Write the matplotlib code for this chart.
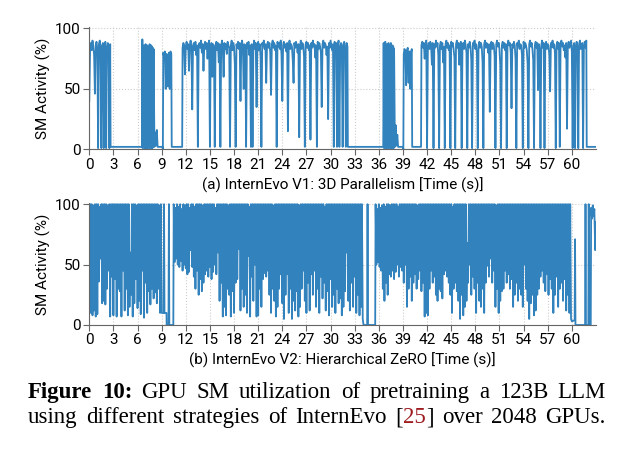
import numpy as np
import matplotlib.pyplot as plt

# ---------------- datos ----------------
# (a) InternEvo V1 : tramos muestreados cada dt segundos
v1_ini = [40, 84, 88, 82, 90, 85, 78, 46, 86, 89,
          83, 1, 87, 90, 84, 1, 86, 88, 1, 85,
          89, 1, 84, 88, 86, 1, 87]                      # 0.0 .. 2.6, dt 0.1
v1_bloque1 = [91, 1, 84, 2, 86, 1, 83, 1, 87, 2,
              85, 1, 86, 1, 84, 2, 85, 1, 87, 1,
              84, 2, 86, 1, 85, 1, 84, 2, 83]             # 6.6 .. 8.0, dt 0.05
v1_picos1 = [2, 14, 3, 16, 2, 2]                         # 8.1 .. 8.6
v1_medio1 = [80, 76, 81, 50, 79, 78, 52, 80, 50, 81, 79]  # 9.2 .. 10.2
v1_ciclo1 = [84, 88, 86, 62, 85, 89, 83, 87, 65, 86,
             90, 84, 33, 86, 88, 82, 89, 78, 86, 2,
             85, 88, 84, 90, 80, 87, 65, 86, 89, 83,
             88, 75, 86, 90, 2, 84, 88, 60, 87, 85,
             2, 86, 89, 82, 88, 72, 87, 2, 85, 90,
             84, 60, 88, 83, 87, 79, 89, 86, 84, 2,
             86, 90, 82, 88, 85, 70, 2, 87, 84, 89,
             83, 88, 40, 86, 90, 84, 50, 87, 85, 2,
             88, 84, 89, 78, 86, 2, 87, 2, 85, 90,
             83, 88, 35, 86, 89, 82, 87, 76, 2, 88,
             85, 90, 83, 87, 55, 86, 89, 84, 88, 80,
             45, 87, 90, 84, 88, 82, 86, 2, 89, 85,
             88, 83, 90, 78, 40, 86, 89, 84, 87, 81,
             88, 15, 86, 90, 83, 87, 85, 74, 55, 88,
             84, 89, 86, 80, 87, 10, 85, 90, 83, 88,
             86, 77, 2, 87, 89, 84, 88, 82, 86, 8,
             88, 84, 90, 85, 87, 76, 86, 2, 89, 83,
             88, 85, 80, 35, 87, 90, 84, 88, 86, 78,
             85, 25, 88, 84, 90, 86, 82, 87, 2, 89,
             85, 88, 2, 86, 90, 2, 84, 88, 85, 2,
             87, 89, 84, 2, 88, 85]                      # 11.6 .. 32.1
v1_bloque2 = [88, 1, 86, 2, 89, 1, 85, 1, 87, 2,
              84, 1, 88, 1, 86, 2, 85, 1, 88, 1,
              84, 2, 86, 1, 85, 1, 83]                    # 36.6 .. 37.9, dt 0.05
v1_picos2 = [2, 20, 3, 12, 2]                            # 38.0 .. 38.4
v1_medio2 = [79, 83, 80, 53, 82, 84, 55, 81, 50, 80, 83]  # 39.1 .. 40.1
v1_ciclo2 = [86, 89, 84, 88, 75, 87, 90, 1, 85, 88,
             83, 89, 86, 70, 88, 1, 87, 84, 90, 85,
             88, 78, 1, 86, 89, 83, 88, 72, 85, 1,
             87, 90, 84, 88, 82, 86, 1, 89, 85, 88,
             83, 76, 1, 87, 90, 84, 88, 70, 86, 89,
             1, 85, 88, 83, 90, 86, 80, 1, 87, 84,
             89, 85, 74, 1, 88, 86, 90, 83, 87, 79,
             1, 86, 89, 84, 88, 85, 72, 1, 87, 90,
             84, 88, 86, 80, 87, 31, 85, 89, 83, 88,
             86, 77, 1, 87, 90, 85, 88, 83, 70, 1,
             86, 89, 84, 88, 82, 87, 1, 85, 90, 86,
             88, 80, 34, 87, 84, 89, 86, 75, 1, 88,
             85, 90, 83, 87, 86, 78, 1, 89, 84, 88,
             86, 82, 71, 1, 87, 90, 85, 88, 83, 74,
             1, 86, 89, 84, 88, 49, 87, 82, 1, 86,
             90, 84, 88, 1, 85, 89, 83, 87, 86, 78,
             48, 88, 85, 90, 84, 87, 80, 1, 86, 89,
             83, 88, 2, 87, 90, 85, 88, 82, 86, 76,
             88, 17, 85, 89, 84, 87, 90, 81, 1, 86,
             88, 1, 85, 89, 84, 1, 87, 90, 83, 86,
             88, 1, 85, 89, 84, 90]                      # 41.3 .. 61.8
# tramos planos (tiempo, valor)
v1_plano1 = ([2.65, 6.55], [2, 2])
v1_plano2 = ([8.7, 9.1, 9.15], [2, 2, 0])
v1_plano3 = ([10.25, 11.55], [2, 2])
v1_plano4 = ([32.15, 36.55], [2, 2])
v1_plano5 = ([38.5, 39.0, 39.05], [2, 2, 0])
v1_plano6 = ([40.15, 41.25], [2, 2])
v1_plano7 = ([61.85, 63.0], [2, 2])

# (b) InternEvo V2 : minimos (cada 0.2 s) y maximos intercalados
v2_bajos1 = [29, 10, 8, 12, 7, 9, 36, 55, 18, 20,
             17, 30, 45, 7, 40, 8, 38, 7, 30, 28,
             7, 45, 12, 30, 8, 15, 25, 7, 18, 38,
             14, 20, 9, 45, 6, 35, 10, 28, 17, 30,
             22, 27, 18, 30, 10]                         # 0.0 .. 8.8
v2_altos1 = [100, 100, 99, 100, 100, 100, 98, 100, 100, 100,
             100, 99, 100, 100, 100, 100, 100, 100, 100, 100,
             100, 100, 100, 100, 100, 60, 100, 100, 100, 99,
             100, 100, 100, 100, 100, 100, 100, 100, 100, 100,
             100, 100, 100, 99, 100]                     # 0.1 .. 8.9
v2_bajos2 = [52, 55, 50, 48, 53, 45, 50, 47, 42, 44,
             62, 48, 40, 30, 45, 25, 38, 28, 35, 42,
             45, 40, 48, 38, 44, 50, 42, 60, 20, 35,
             7, 15, 8, 30, 25, 7, 28, 10, 35, 38,
             63, 12, 30, 15, 25, 10, 57, 7, 40, 20,
             50, 7, 8, 30, 15, 38, 43, 40, 45, 25,
             10, 30, 20, 7, 15, 30, 42, 18, 5, 25,
             42, 10, 30, 5, 20, 12, 28, 7, 15, 30,
             45, 20, 10, 35, 12, 42, 25, 45, 15, 30,
             10, 40, 22, 35, 12, 28, 8, 38, 15, 25,
             10, 30, 18, 22, 8, 15, 28, 60, 20, 12,
             35, 15, 40, 10, 25, 8, 15]                  # 10.6 .. 33.8
v2_altos2 = [97, 100, 98, 100, 96, 100, 99, 100, 100, 97,
             100, 100, 98, 100, 100, 100, 100, 99, 100, 100,
             100, 100, 100, 100, 100, 97, 100, 100, 100, 100,
             100, 100, 100, 99, 100, 100, 100, 100, 100, 100,
             100, 100, 100, 100, 100, 100, 98, 100, 100, 100,
             100, 100, 100, 100, 100, 100, 100, 100, 100, 100,
             100, 99, 100, 100, 100, 100, 100, 100, 100, 100,
             100, 100, 100, 100, 100, 100, 100, 99, 100, 100,
             100, 100, 100, 100, 100, 100, 100, 100, 100, 100,
             100, 100, 100, 98, 100, 100, 100, 100, 100, 100,
             100, 100, 100, 100, 100, 100, 100, 100, 100, 100,
             100, 100, 100, 100, 100, 100, 100]          # 10.7 .. 33.9
v2_bajos3 = [50, 52, 48, 45, 30, 20, 35, 25, 42, 40,
             45, 38, 44, 50, 40, 48, 45, 35, 50, 15,
             30, 40, 20, 35, 42, 30, 38, 45, 28, 35,
             7, 10, 8, 30, 45, 35, 40, 25, 20, 30,
             28, 22, 42, 45, 40, 35, 25, 10, 30, 35,
             28, 20, 5, 25, 8, 15, 20, 35, 50, 25,
             40, 30, 10, 35, 20, 15, 30, 10, 35, 49,
             40, 55, 35, 45, 15, 30, 10, 20, 28, 30,
             45, 35, 42, 30, 38, 15, 25, 35, 20, 30,
             25, 15, 50, 30, 20, 5, 18, 25, 8, 12,
             25, 30, 40, 45, 35, 28, 42, 25, 38, 30,
             10, 25, 40, 15, 30, 35, 20, 38, 12, 25,
             10]                                         # 35.7 .. 59.7
v2_altos3 = [96, 100, 97, 99, 100, 98, 100, 100, 99, 100,
             100, 100, 100, 98, 100, 100, 100, 100, 100, 100,
             100, 100, 100, 100, 100, 99, 100, 100, 100, 100,
             100, 100, 100, 100, 100, 100, 100, 100, 100, 100,
             100, 100, 100, 100, 100, 100, 100, 98, 100, 100,
             100, 100, 100, 100, 100, 100, 68, 100, 100, 100,
             100, 100, 100, 100, 100, 100, 100, 100, 100, 100,
             100, 100, 100, 100, 99, 100, 100, 100, 100, 100,
             100, 100, 100, 100, 100, 100, 100, 100, 100, 100,
             100, 100, 100, 100, 100, 100, 100, 100, 100, 100,
             100, 100, 100, 100, 100, 100, 100, 100, 100, 100,
             100, 100, 100, 100, 100, 100, 100, 100, 100, 100,
             100]                                        # 35.8 .. 59.8
v2_caida1 = ([9.0, 9.25, 9.3, 9.35, 9.6, 9.62, 9.85, 9.9, 9.95, 10.45, 10.5],
             [10, 10, 100, 10, 10, 0, 0, 100, 0, 0, 100])
v2_caida2 = ([34.0, 34.1, 34.55, 34.6, 34.65, 35.55, 35.6],
             [5, 0, 0, 100, 0, 0, 100])
v2_final = ([59.9, 60.0, 60.35, 60.4, 60.45, 61.65, 61.7, 61.75, 62.05, 62.1,
             62.15, 62.35, 62.4, 62.5, 62.6, 62.7, 62.8, 62.9, 63.0],
            [5, 3, 4, 71, 0, 0, 100, 0, 0, 100,
             0, 0, 97, 88, 99, 90, 96, 62, 85])

xticks = np.arange(0, 61, 3)
azul = '#3182bd'
rojo_cita = '#9e1b20'


def muestreo(t0, dt, vals):
    '''tramo con muestras equiespaciadas'''
    return t0 + dt*np.arange(len(vals)), np.array(vals, float)


def intercalar(t0, bajos, altos):
    '''minimos y maximos alternados cada 0.1 s'''
    v = np.column_stack([bajos, altos]).ravel()
    return t0 + 0.1*np.arange(len(v)), v.astype(float)


def pegar(*trozos):
    t = np.concatenate([np.asarray(a[0], float) for a in trozos])
    v = np.concatenate([np.asarray(a[1], float) for a in trozos])
    return t, v


t1, y1 = pegar(muestreo(0.0, 0.1, v1_ini), v1_plano1,
               muestreo(6.6, 0.05, v1_bloque1), muestreo(8.1, 0.1, v1_picos1),
               v1_plano2, muestreo(9.2, 0.1, v1_medio1), v1_plano3,
               muestreo(11.6, 0.1, v1_ciclo1), v1_plano4,
               muestreo(36.6, 0.05, v1_bloque2), muestreo(38.0, 0.1, v1_picos2),
               v1_plano5, muestreo(39.1, 0.1, v1_medio2), v1_plano6,
               muestreo(41.3, 0.1, v1_ciclo2), v1_plano7)

t2, y2 = pegar(intercalar(0.0, v2_bajos1, v2_altos1), v2_caida1,
               intercalar(10.6, v2_bajos2, v2_altos2), v2_caida2,
               intercalar(35.7, v2_bajos3, v2_altos3), v2_final)

plt.rcParams['font.family'] = ['Roboto', 'DejaVu Sans']

fig = plt.figure(figsize=(6.4, 4.51), dpi=100)
ax1 = fig.add_axes([0.1395, 0.669, 0.7917, 0.2705])
ax2 = fig.add_axes([0.1395, 0.2794, 0.7917, 0.2705])

etiquetas = ['(a) InternEvo V1: 3D Parallelism [Time (s)]',
             '(b) InternEvo V2: Hierarchical ZeRO [Time (s)]']
for ax, t, y, lab in [(ax1, t1, y1, etiquetas[0]), (ax2, t2, y2, etiquetas[1])]:
    ax.plot(t, y, color=azul, lw=1.3)
    ax.set_xlim(0, 63)
    ax.set_ylim(0, 101)
    ax.set_xticks(xticks)
    ax.set_yticks([0, 50, 100])
    ax.grid(True, ls=':', color='#cccccc', lw=0.8)
    ax.set_axisbelow(True)
    for s in ['top', 'right']:
        ax.spines[s].set_visible(False)
    for s in ['left', 'bottom']:
        ax.spines[s].set_color('#666666')
    ax.tick_params(labelsize=11, color='#666666', length=4, pad=2)
    ax.set_ylabel('SM Activity (%)', fontsize=11, labelpad=3)
    ax.set_xlabel(lab, fontsize=11, labelpad=4)

# pie de figura, justificado como en el articulo
r = fig.canvas.get_renderer()
fuente = dict(family='Liberation Serif', fontsize=16.5)
x_izq, x_der = 28/640, 606/640


def ancho(s, peso='normal'):
    tt = fig.text(0, 0, s, fontweight=peso, **fuente)
    w = tt.get_window_extent(renderer=r).width
    tt.remove()
    return w / fig.bbox.width


def renglon(y, palabras):
    '''palabras: (texto, peso); la cita [25] lleva el numero en rojo'''
    anchos = [ancho(s, p) for s, p in palabras]
    hueco = (x_der - x_izq - sum(anchos)) / (len(palabras) - 1)
    x = x_izq
    for (s, p), w in zip(palabras, anchos):
        if s == '[25]':
            fig.text(x, y, '[', va='baseline', **fuente)
            fig.text(x + w - ancho('25]'), y, '25', color=rojo_cita, va='baseline', **fuente)
            fig.text(x + w - ancho(']'), y, ']', va='baseline', **fuente)
        else:
            fig.text(x, y, s, fontweight=p, color='black', va='baseline', **fuente)
        x += w + hueco


linea1 = [('Figure', 'bold'), ('10:', 'bold')] + \
    [(w, 'normal') for w in 'GPU SM utilization of pretraining a 123B LLM'.split()]
linea2 = [(w, 'normal') for w in 'using different strategies of InternEvo [25] over 2048 GPUs.'.split()]
renglon(0.1175, linea1)
renglon(0.0614, linea2)

fig.savefig('out.png', dpi=100)
